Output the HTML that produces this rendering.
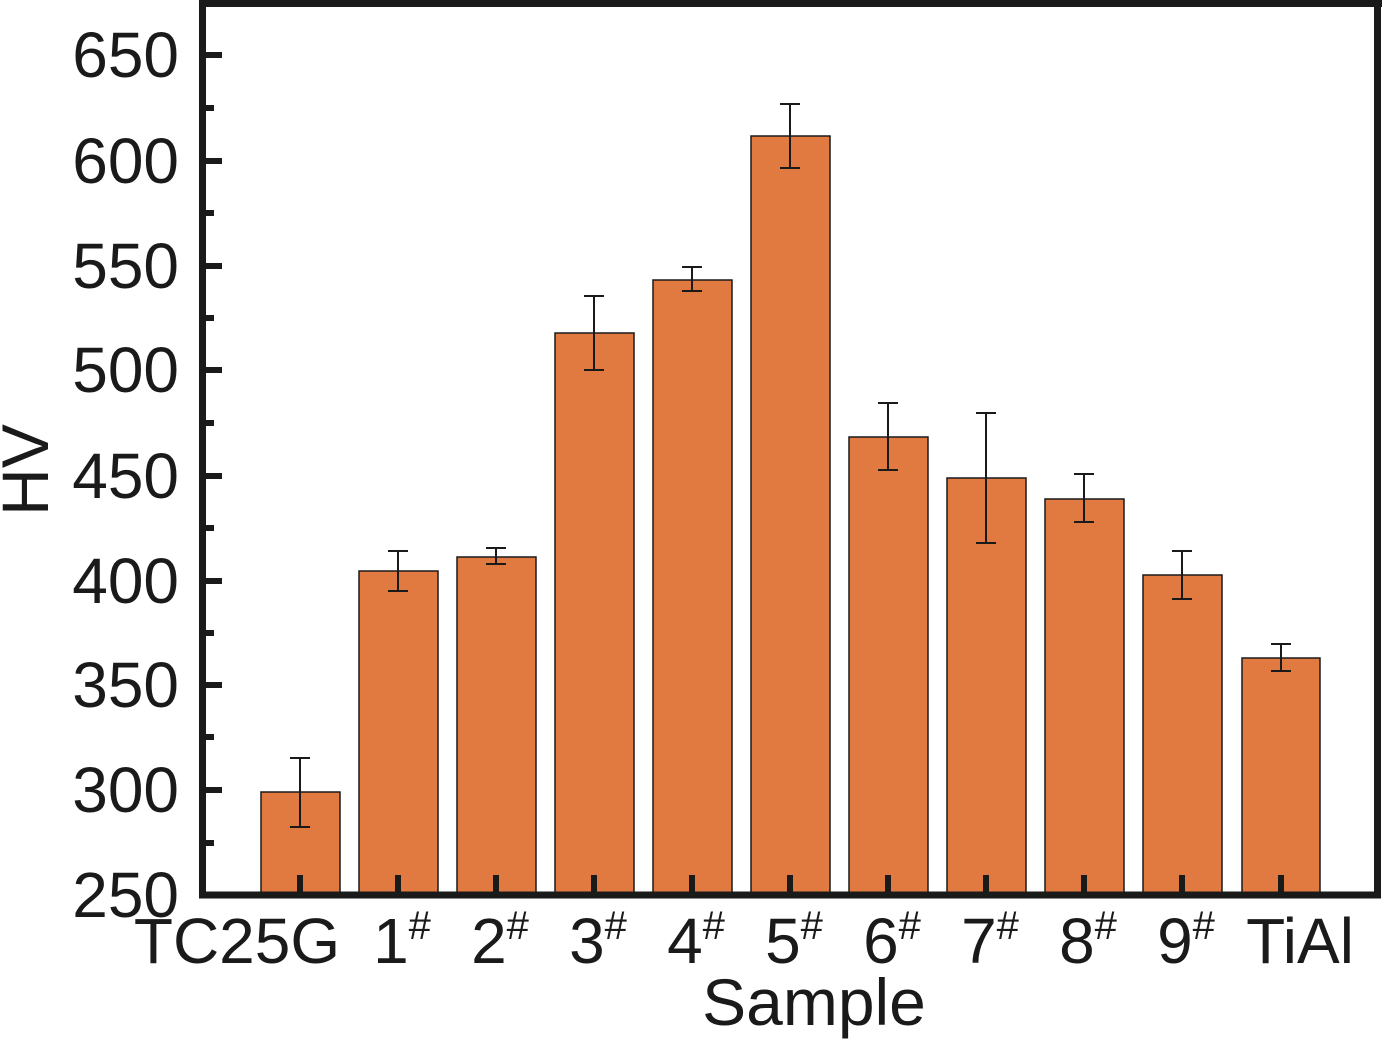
<!DOCTYPE html>
<html><head><style>body{margin:0;background:#fff}svg{display:block}</style></head><body>
<svg width="1382" height="1039" xmlns="http://www.w3.org/2000/svg" font-family="Liberation Sans, sans-serif" fill="#1a1a1a">
<g stroke="#1a1a1a" stroke-width="1.5" fill="#e07a41">
<rect x="261" y="792" width="79" height="103"/>
<rect x="359" y="571" width="79" height="324"/>
<rect x="457" y="557" width="79" height="338"/>
<rect x="555" y="333" width="79" height="562"/>
<rect x="653" y="280" width="79" height="615"/>
<rect x="751" y="136" width="79" height="759"/>
<rect x="849" y="437" width="79" height="458"/>
<rect x="947" y="478" width="79" height="417"/>
<rect x="1045" y="499" width="79" height="396"/>
<rect x="1143" y="575" width="79" height="320"/>
<rect x="1242" y="658" width="78" height="237"/>
</g>
<g stroke="#1a1a1a" stroke-width="2" fill="none">
<path d="M300 758V827M290 758H310M290 827H310"/>
<path d="M398 551V591M388 551H408M388 591H408"/>
<path d="M496 548V564M486 548H506M486 564H506"/>
<path d="M594 296V370M584 296H604M584 370H604"/>
<path d="M692 267V291M682 267H702M682 291H702"/>
<path d="M790 104V168M780 104H800M780 168H800"/>
<path d="M888 403V470M878 403H898M878 470H898"/>
<path d="M986 413V543M976 413H996M976 543H996"/>
<path d="M1084 474V522M1074 474H1094M1074 522H1094"/>
<path d="M1182 551V599M1172 551H1192M1172 599H1192"/>
<path d="M1281 644V671M1271 644H1291M1271 671H1291"/>
</g>
<g stroke="#1a1a1a" stroke-width="6">
<path d="M202.5 0V898M199 3.5H1382M1377.5 0V898M199 895H1381" stroke-width="7"/>
<path d="M203 55H222M203 161H222M203 266H222M203 370H222M203 476H222M203 581H222M203 685H222M203 790H222"/>
<path d="M203 108H214M203 213H214M203 318H214M203 423H214M203 528H214M203 633H214M203 737H214M203 843H214"/>
<path d="M300 895V875M398 895V875M496 895V875M594 895V875M692 895V875M790 895V875M888 895V875M986 895V875M1084 895V875M1182 895V875M1281 895V875"/>
</g>
<g font-size="64" text-anchor="end">
<text x="179" y="77">650</text><text x="179" y="183">600</text><text x="179" y="288">550</text><text x="179" y="392">500</text><text x="179" y="498">450</text><text x="179" y="603">400</text><text x="179" y="707">350</text><text x="179" y="812">300</text><text x="179" y="917">250</text>
</g>
<g font-size="64" text-anchor="middle">
<text x="237" y="963">TC25G</text>
<text x="402" y="963">1<tspan font-size="40" dy="-24">#</tspan></text>
<text x="500" y="963">2<tspan font-size="40" dy="-24">#</tspan></text>
<text x="598" y="963">3<tspan font-size="40" dy="-24">#</tspan></text>
<text x="696" y="963">4<tspan font-size="40" dy="-24">#</tspan></text>
<text x="794" y="963">5<tspan font-size="40" dy="-24">#</tspan></text>
<text x="892" y="963">6<tspan font-size="40" dy="-24">#</tspan></text>
<text x="990" y="963">7<tspan font-size="40" dy="-24">#</tspan></text>
<text x="1088" y="963">8<tspan font-size="40" dy="-24">#</tspan></text>
<text x="1186" y="963">9<tspan font-size="40" dy="-24">#</tspan></text>
<text x="1300" y="963">TiAl</text>
<text x="814" y="1025" font-size="66">Sample</text>
</g>
<text font-size="66" text-anchor="middle" transform="translate(48,470) rotate(-90)">HV</text>
</svg>
</body></html>
